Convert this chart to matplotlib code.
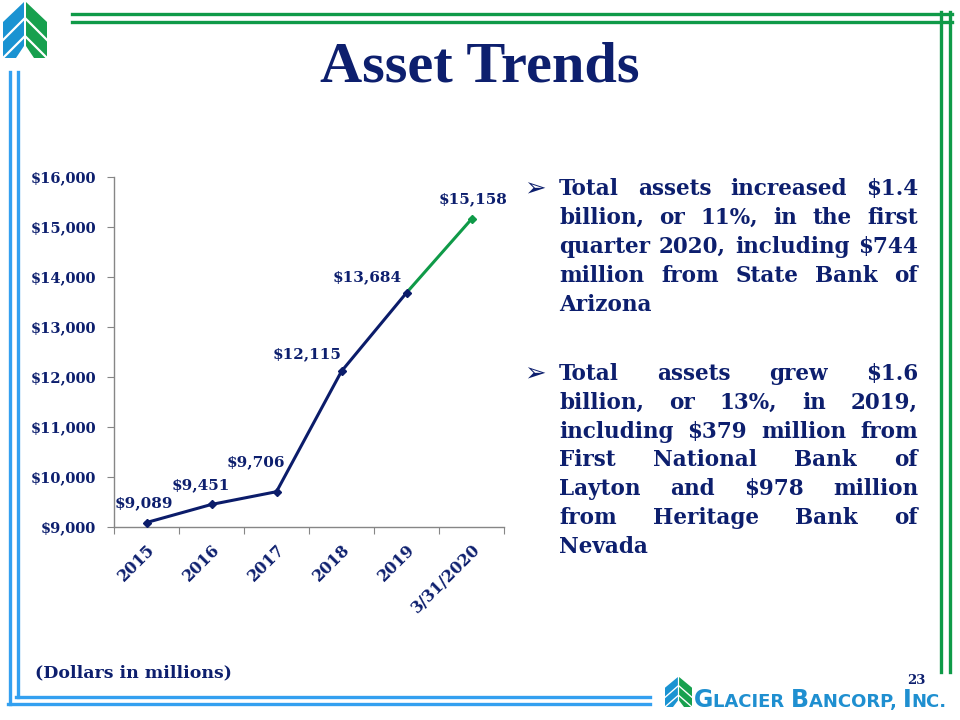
import matplotlib
matplotlib.use('Agg')
import matplotlib.pyplot as plt
from matplotlib.patches import Polygon

# chart data
categories = ['2015', '2016', '2017', '2018', '2019', '3/31/2020']
assets = [9089, 9451, 9706, 12115, 13684, 15158]
value_labels = ['$9,089', '$9,451', '$9,706', '$12,115', '$13,684', '$15,158']
y_ticks = [9000, 10000, 11000, 12000, 13000, 14000, 15000, 16000]

# right-hand text, one list per bullet (line breaks as on the slide)
bullet_1 = ['Total assets increased $1.4',
            'billion, or 11%, in the first',
            'quarter 2020, including $744',
            'million from State Bank of',
            'Arizona']
bullet_2 = ['Total assets grew $1.6',
            'billion, or 13%, in 2019,',
            'including $379 million from',
            'First National Bank of',
            'Layton and $978 million',
            'from Heritage Bank of',
            'Nevada']

NAVY = '#0d1f6e'
LINE_NAVY = '#0b1c6a'
GREEN = '#0f9a48'
BLUE = '#33a0f0'
SERIF = 'DejaVu Serif'

fig = plt.figure(figsize=(9.6, 7.2), dpi=100)

# overlay in pixel coordinates for the slide decoration
deco = fig.add_axes([0, 0, 1, 1], zorder=0)
deco.set_xlim(0, 960)
deco.set_ylim(720, 0)
deco.axis('off')

# green frame top / right
deco.plot([72, 952], [14, 14], color=GREEN, lw=2.4)
deco.plot([72, 952], [22, 22], color=GREEN, lw=2.4)
deco.plot([941, 941], [12, 672], color=GREEN, lw=2.4)
deco.plot([950, 950], [12, 672], color=GREEN, lw=2.4)
# blue frame left / bottom
deco.plot([10, 10], [72, 704], color=BLUE, lw=2.4)
deco.plot([17.5, 17.5], [72, 697], color=BLUE, lw=2.4)
deco.plot([8, 650], [704, 704], color=BLUE, lw=2.4)
deco.plot([16, 650], [697, 697], color=BLUE, lw=2.4)


def logo(ax, x0, y0, w, h):
    sx, sy = w / 44.0, h / 56.0
    def P(pts):
        return [(x0 + px * sx, y0 + py * sy) for px, py in pts]
    ax.add_patch(Polygon(P([(21, 0), (0, 20), (0, 56), (13, 56), (21, 44)]),
                         closed=True, color='#1a93d2', lw=0))
    ax.add_patch(Polygon(P([(23, 0), (44, 20), (44, 56), (31, 56), (23, 44)]),
                         closed=True, color='#17a04e', lw=0))
    for k in (18, 36):
        ax.plot(*zip(*P([(0, 20 + k), (22, k - 2), (44, 20 + k)])),
                color='white', lw=1.6 * sx)


logo(deco, 3, 2, 44, 56)
logo(deco, 665, 677, 27, 30)

# bottom-right company name in small caps
name_parts = [('G', 17), ('LACIER ', 13), ('B', 17), ('ANCORP, ', 13),
              ('I', 17), ('NC.', 13)]
r = fig.canvas.get_renderer()
xx = 694
for txt, sz in name_parts:
    t = deco.text(xx, 707, txt, fontsize=sz, fontweight='bold',
                  family='DejaVu Sans', color='#1f8fd0', va='baseline')
    xx += t.get_window_extent(r).width

deco.text(480, 68, 'Asset Trends', fontsize=42, fontweight='bold',
          family='Liberation Serif', color=NAVY, ha='center', va='center')
deco.text(35, 673, '(Dollars in millions)', fontsize=12.5, fontweight='bold',
          family=SERIF, color=NAVY, ha='left', va='center')
deco.text(916, 680, '23', fontsize=9.5, fontweight='bold', family=SERIF,
          color=NAVY, ha='center', va='center')


def justified(ax, lines, x0, x1, y0, dy, size):
    ax.text(x0 - 35, y0, '\u27a2', fontsize=size + 3, family='DejaVu Sans',
            fontweight='bold', color=NAVY, va='center', ha='left')
    for i, line in enumerate(lines):
        words = line.split()
        y = y0 + i * dy
        widths = []
        for w in words:
            t = ax.text(0, 0, w, fontsize=size, fontweight='bold', family=SERIF)
            widths.append(t.get_window_extent(r).width)
            t.remove()
        last = i == len(lines) - 1
        if last or len(words) == 1:
            gap = size * 0.35
        else:
            gap = (x1 - x0 - sum(widths)) / (len(words) - 1)
        x = x0
        for w, wd in zip(words, widths):
            ax.text(x, y, w, fontsize=size, fontweight='bold', family=SERIF,
                    color=NAVY, va='center', ha='left')
            x += wd + gap


justified(deco, bullet_1, 559, 918, 189, 29, 15.5)
justified(deco, bullet_2, 559, 918, 374, 28.8, 15.5)

# the chart
ax = fig.add_axes([114 / 960, 1 - 527 / 720, 390 / 960, 350 / 720], zorder=1)
ax.patch.set_alpha(0)
xs = list(range(len(categories)))
ax.plot(xs[:5], assets[:5], color=LINE_NAVY, lw=2.2, marker='D', ms=4.5,
        zorder=3)
ax.plot(xs[4:], assets[4:], color=GREEN, lw=2.2, zorder=2)
ax.plot(xs[5:], assets[5:], color=GREEN, lw=0, marker='D', ms=4.5, zorder=3)

label_offsets = [(-2, 14), (-8, 14), (-15, 21), (-25, 12), (-28, 11), (1, 14)]
for x, v, lab, off in zip(xs, assets, value_labels, label_offsets):
    ax.annotate(lab, (x, v), xytext=off, textcoords='offset points',
                ha='center', va='center', fontsize=11, fontweight='bold',
                family=SERIF, color=NAVY)

ax.set_xlim(-0.5, len(categories) - 0.5)
ax.set_ylim(9000, 16000)
ax.set_yticks(y_ticks)
ax.set_yticklabels(['${:,}'.format(v) for v in y_ticks])
ax.set_xticks([i - 0.5 for i in range(len(categories) + 1)])
ax.set_xticklabels([])
ax.set_xticks(xs, minor=True)
ax.set_xticklabels(categories, minor=True, rotation=45, ha='right',
                   rotation_mode='anchor')
ax.tick_params(axis='x', which='major', length=5, color='#868686',
               direction='out')
ax.tick_params(axis='x', which='minor', length=0, pad=10)
ax.tick_params(axis='y', length=5, color='#868686', direction='out', pad=8)
for lab in ax.get_yticklabels():
    lab.set_fontfamily(SERIF)
    lab.set_fontweight('bold')
    lab.set_fontsize(10.5)
    lab.set_color(NAVY)
for lab in ax.get_xticklabels(minor=True):
    lab.set_fontfamily(SERIF)
    lab.set_fontweight('bold')
    lab.set_fontsize(11.5)
    lab.set_color(NAVY)
for s in ('top', 'right'):
    ax.spines[s].set_visible(False)
for s in ('left', 'bottom'):
    ax.spines[s].set_color('#868686')
    ax.spines[s].set_linewidth(1)

fig.savefig('out.png', dpi=100)
